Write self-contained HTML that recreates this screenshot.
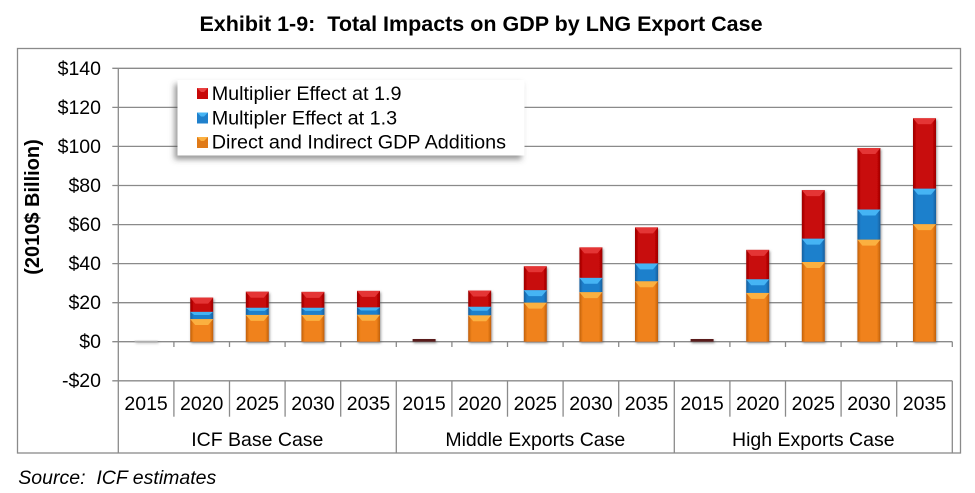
<!DOCTYPE html>
<html><head><meta charset="utf-8"><style>
html,body{margin:0;padding:0;background:#fff;}
svg{display:block;}
text{font-family:"Liberation Sans",Arial,sans-serif;fill:#000;white-space:pre;}
</style></head><body>
<svg width="975" height="493" viewBox="0 0 975 493" xmlns="http://www.w3.org/2000/svg" xml:space="preserve">
<defs>
<linearGradient id="gr" x1="0" x2="1" y1="0" y2="0"><stop offset="0" stop-color="#9a0000"/><stop offset="0.15" stop-color="#c80808"/><stop offset="0.85" stop-color="#c80808"/><stop offset="1" stop-color="#9a0000"/></linearGradient>
<linearGradient id="gb" x1="0" x2="1" y1="0" y2="0"><stop offset="0" stop-color="#155f9e"/><stop offset="0.15" stop-color="#1f80cc"/><stop offset="0.85" stop-color="#1f80cc"/><stop offset="1" stop-color="#155f9e"/></linearGradient>
<linearGradient id="go" x1="0" x2="1" y1="0" y2="0"><stop offset="0" stop-color="#c0600a"/><stop offset="0.15" stop-color="#f0821a"/><stop offset="0.85" stop-color="#f0821a"/><stop offset="1" stop-color="#c0600a"/></linearGradient>
<filter id="sh" x="-20%" y="-20%" width="150%" height="150%"><feDropShadow dx="1" dy="1.5" stdDeviation="1.2" flood-color="#555" flood-opacity="0.6"/></filter>
<filter id="lsh" x="-10%" y="-20%" width="120%" height="150%"><feDropShadow dx="-3" dy="4" stdDeviation="3" flood-color="#444" flood-opacity="0.55"/></filter>
</defs>

<text x="481" y="31" font-size="21.5" font-weight="bold" text-anchor="middle">Exhibit 1-9:  Total Impacts on GDP by LNG Export Case</text>

<rect x="17.5" y="48.5" width="943" height="404.5" fill="none" stroke="#8a8a8a" stroke-width="1.3"/>

<g stroke="#8a8a8a" stroke-width="1.3">
<line x1="112.3" x2="952.3" y1="68.3" y2="68.3"/>
<line x1="112.3" x2="952.3" y1="107.4" y2="107.4"/>
<line x1="112.3" x2="952.3" y1="146.4" y2="146.4"/>
<line x1="112.3" x2="952.3" y1="185.5" y2="185.5"/>
<line x1="112.3" x2="952.3" y1="224.6" y2="224.6"/>
<line x1="112.3" x2="952.3" y1="263.6" y2="263.6"/>
<line x1="112.3" x2="952.3" y1="302.7" y2="302.7"/>
<line x1="112.3" x2="952.3" y1="341.7" y2="341.7"/>
<line x1="112.3" x2="952.3" y1="380.8" y2="380.8"/>
<line x1="118.3" x2="118.3" y1="68.3" y2="453"/>
<line x1="173.9" x2="173.9" y1="341.7" y2="347"/>
<line x1="229.5" x2="229.5" y1="341.7" y2="347"/>
<line x1="285.1" x2="285.1" y1="341.7" y2="347"/>
<line x1="340.7" x2="340.7" y1="341.7" y2="347"/>
<line x1="396.3" x2="396.3" y1="341.7" y2="347"/>
<line x1="451.9" x2="451.9" y1="341.7" y2="347"/>
<line x1="507.5" x2="507.5" y1="341.7" y2="347"/>
<line x1="563.1" x2="563.1" y1="341.7" y2="347"/>
<line x1="618.7" x2="618.7" y1="341.7" y2="347"/>
<line x1="674.3" x2="674.3" y1="341.7" y2="347"/>
<line x1="729.9" x2="729.9" y1="341.7" y2="347"/>
<line x1="785.5" x2="785.5" y1="341.7" y2="347"/>
<line x1="841.1" x2="841.1" y1="341.7" y2="347"/>
<line x1="896.7" x2="896.7" y1="341.7" y2="347"/>
<line x1="952.3" x2="952.3" y1="341.7" y2="347"/>
<line x1="173.9" x2="173.9" y1="380.8" y2="416.7"/>
<line x1="229.5" x2="229.5" y1="380.8" y2="416.7"/>
<line x1="285.1" x2="285.1" y1="380.8" y2="416.7"/>
<line x1="340.7" x2="340.7" y1="380.8" y2="416.7"/>
<line x1="451.9" x2="451.9" y1="380.8" y2="416.7"/>
<line x1="507.5" x2="507.5" y1="380.8" y2="416.7"/>
<line x1="563.1" x2="563.1" y1="380.8" y2="416.7"/>
<line x1="618.7" x2="618.7" y1="380.8" y2="416.7"/>
<line x1="729.9" x2="729.9" y1="380.8" y2="416.7"/>
<line x1="785.5" x2="785.5" y1="380.8" y2="416.7"/>
<line x1="841.1" x2="841.1" y1="380.8" y2="416.7"/>
<line x1="896.7" x2="896.7" y1="380.8" y2="416.7"/>
<line x1="396.3" x2="396.3" y1="380.8" y2="453"/>
<line x1="674.3" x2="674.3" y1="380.8" y2="453"/>
<line x1="952.3" x2="952.3" y1="380.8" y2="453"/>
</g>

<g font-size="19.5" text-anchor="end">
<text x="101" y="75">$140</text>
<text x="101" y="114">$120</text>
<text x="101" y="153">$100</text>
<text x="101" y="192">$80</text>
<text x="101" y="231">$60</text>
<text x="101" y="270">$40</text>
<text x="101" y="309">$20</text>
<text x="101" y="348">$0</text>
<text x="101" y="387">-$20</text>
</g>
<text transform="translate(39,207) rotate(-90)" font-size="20" font-weight="bold" text-anchor="middle">(2010$ Billion)</text>

<g font-size="19.5" text-anchor="middle">
<text x="146.1" y="410">2015</text><text x="201.7" y="410">2020</text><text x="257.3" y="410">2025</text><text x="312.9" y="410">2030</text><text x="368.5" y="410">2035</text>
<text x="424.1" y="410">2015</text><text x="479.7" y="410">2020</text><text x="535.3" y="410">2025</text><text x="590.9" y="410">2030</text><text x="646.5" y="410">2035</text>
<text x="702.1" y="410">2015</text><text x="757.7" y="410">2020</text><text x="813.3" y="410">2025</text><text x="868.9" y="410">2030</text><text x="924.5" y="410">2035</text>
<text x="257.3" y="446">ICF Base Case</text>
<text x="535.3" y="446">Middle Exports Case</text>
<text x="813.3" y="446">High Exports Case</text>
</g>

<g filter="url(#sh)">
<rect x="134.6" y="340.7" width="23" height="1" fill="#bbb"/>
<rect x="190.2" y="319.05" width="23" height="22.65" fill="url(#go)"/><polygon points="190.2,319.05 213.2,319.05 208.2,325 195.2,325" fill="#fbb040"/>
<rect x="190.2" y="311.8" width="23" height="7.25" fill="url(#gb)"/><polygon points="190.2,311.8 213.2,311.8 209.2,315 194.2,315" fill="#45b4f4"/>
<rect x="190.2" y="297.6" width="23" height="14.2" fill="url(#gr)"/><polygon points="190.2,297.6 213.2,297.6 208.2,303.6 195.2,303.6" fill="#e43434"/>
<rect x="245.8" y="314.9" width="23" height="26.8" fill="url(#go)"/><polygon points="245.8,314.9 268.8,314.9 263.8,320.9 250.8,320.9" fill="#fbb040"/>
<rect x="245.8" y="307.7" width="23" height="7.2" fill="url(#gb)"/><polygon points="245.8,307.7 268.8,307.7 264.8,310.9 249.8,310.9" fill="#45b4f4"/>
<rect x="245.8" y="291.7" width="23" height="16" fill="url(#gr)"/><polygon points="245.8,291.7 268.8,291.7 263.8,297.7 250.8,297.7" fill="#e43434"/>
<rect x="301.4" y="314.9" width="23" height="26.8" fill="url(#go)"/><polygon points="301.4,314.9 324.4,314.9 319.4,320.9 306.4,320.9" fill="#fbb040"/>
<rect x="301.4" y="307.7" width="23" height="7.2" fill="url(#gb)"/><polygon points="301.4,307.7 324.4,307.7 320.4,310.9 305.4,310.9" fill="#45b4f4"/>
<rect x="301.4" y="291.9" width="23" height="15.8" fill="url(#gr)"/><polygon points="301.4,291.9 324.4,291.9 319.4,297.9 306.4,297.9" fill="#e43434"/>
<rect x="357" y="314.7" width="23" height="27" fill="url(#go)"/><polygon points="357,314.7 380,314.7 375,320.7 362,320.7" fill="#fbb040"/>
<rect x="357" y="307.3" width="23" height="7.4" fill="url(#gb)"/><polygon points="357,307.3 380,307.3 376,310.5 361,310.5" fill="#45b4f4"/>
<rect x="357" y="290.9" width="23" height="16.4" fill="url(#gr)"/><polygon points="357,290.9 380,290.9 375,296.9 362,296.9" fill="#e43434"/>
<rect x="412.6" y="339" width="23" height="2.7" fill="#5a1a1a"/>
<rect x="468.2" y="315.3" width="23" height="26.4" fill="url(#go)"/><polygon points="468.2,315.3 491.2,315.3 486.2,321.3 473.2,321.3" fill="#fbb040"/>
<rect x="468.2" y="306.7" width="23" height="8.6" fill="url(#gb)"/><polygon points="468.2,306.7 491.2,306.7 487.2,310.7 472.2,310.7" fill="#45b4f4"/>
<rect x="468.2" y="290.5" width="23" height="16.2" fill="url(#gr)"/><polygon points="468.2,290.5 491.2,290.5 486.2,296.5 473.2,296.5" fill="#e43434"/>
<rect x="523.8" y="302.6" width="23" height="39.1" fill="url(#go)"/><polygon points="523.8,302.6 546.8,302.6 541.8,308.6 528.8,308.6" fill="#fbb040"/>
<rect x="523.8" y="290.1" width="23" height="12.5" fill="url(#gb)"/><polygon points="523.8,290.1 546.8,290.1 541.8,296.1 528.8,296.1" fill="#45b4f4"/>
<rect x="523.8" y="266.3" width="23" height="23.8" fill="url(#gr)"/><polygon points="523.8,266.3 546.8,266.3 541.8,272.3 528.8,272.3" fill="#e43434"/>
<rect x="579.4" y="292.1" width="23" height="49.6" fill="url(#go)"/><polygon points="579.4,292.1 602.4,292.1 597.4,298.1 584.4,298.1" fill="#fbb040"/>
<rect x="579.4" y="277.8" width="23" height="14.3" fill="url(#gb)"/><polygon points="579.4,277.8 602.4,277.8 597.4,283.8 584.4,283.8" fill="#45b4f4"/>
<rect x="579.4" y="247.4" width="23" height="30.4" fill="url(#gr)"/><polygon points="579.4,247.4 602.4,247.4 597.4,253.4 584.4,253.4" fill="#e43434"/>
<rect x="635" y="281.2" width="23" height="60.5" fill="url(#go)"/><polygon points="635,281.2 658,281.2 653,287.2 640,287.2" fill="#fbb040"/>
<rect x="635" y="263.4" width="23" height="17.8" fill="url(#gb)"/><polygon points="635,263.4 658,263.4 653,269.4 640,269.4" fill="#45b4f4"/>
<rect x="635" y="227.4" width="23" height="36" fill="url(#gr)"/><polygon points="635,227.4 658,227.4 653,233.4 640,233.4" fill="#e43434"/>
<rect x="690.6" y="339" width="23" height="2.7" fill="#5a1a1a"/>
<rect x="746.2" y="292.9" width="23" height="48.8" fill="url(#go)"/><polygon points="746.2,292.9 769.2,292.9 764.2,298.9 751.2,298.9" fill="#fbb040"/>
<rect x="746.2" y="279.2" width="23" height="13.7" fill="url(#gb)"/><polygon points="746.2,279.2 769.2,279.2 764.2,285.2 751.2,285.2" fill="#45b4f4"/>
<rect x="746.2" y="249.9" width="23" height="29.3" fill="url(#gr)"/><polygon points="746.2,249.9 769.2,249.9 764.2,255.9 751.2,255.9" fill="#e43434"/>
<rect x="801.8" y="262" width="23" height="79.7" fill="url(#go)"/><polygon points="801.8,262 824.8,262 819.8,268 806.8,268" fill="#fbb040"/>
<rect x="801.8" y="238.6" width="23" height="23.4" fill="url(#gb)"/><polygon points="801.8,238.6 824.8,238.6 819.8,244.6 806.8,244.6" fill="#45b4f4"/>
<rect x="801.8" y="190.1" width="23" height="48.5" fill="url(#gr)"/><polygon points="801.8,190.1 824.8,190.1 819.8,196.1 806.8,196.1" fill="#e43434"/>
<rect x="857.4" y="239.6" width="23" height="102.1" fill="url(#go)"/><polygon points="857.4,239.6 880.4,239.6 875.4,245.6 862.4,245.6" fill="#fbb040"/>
<rect x="857.4" y="209.5" width="23" height="30.1" fill="url(#gb)"/><polygon points="857.4,209.5 880.4,209.5 875.4,215.5 862.4,215.5" fill="#45b4f4"/>
<rect x="857.4" y="148" width="23" height="61.5" fill="url(#gr)"/><polygon points="857.4,148 880.4,148 875.4,154 862.4,154" fill="#e43434"/>
<rect x="913" y="224.1" width="23" height="117.6" fill="url(#go)"/><polygon points="913,224.1 936,224.1 931,230.1 918,230.1" fill="#fbb040"/>
<rect x="913" y="188.6" width="23" height="35.5" fill="url(#gb)"/><polygon points="913,188.6 936,188.6 931,194.6 918,194.6" fill="#45b4f4"/>
<rect x="913" y="118.3" width="23" height="70.3" fill="url(#gr)"/><polygon points="913,118.3 936,118.3 931,124.3 918,124.3" fill="#e43434"/>
</g>

<rect x="177.5" y="80" width="347" height="75.5" fill="#fff" filter="url(#lsh)"/>
<rect x="197" y="88" width="11" height="11" fill="#c80808"/><polygon points="197,88 208,88 204,92 201,92" fill="#e84040"/>
<rect x="197" y="112.5" width="11" height="11" fill="#1f80cc"/><polygon points="197,112.5 208,112.5 204,116.5 201,116.5" fill="#45b4f4"/>
<rect x="197" y="137" width="11" height="11" fill="#e07a18"/><polygon points="197,137 208,137 204,141 201,141" fill="#fbb040"/>
<g font-size="19.8">
<text x="211.7" y="100">Multiplier Effect at 1.9</text>
<text x="211.7" y="124.3">Multipler Effect at 1.3</text>
<text x="211.7" y="148.5">Direct and Indirect GDP Additions</text>
</g>

<text x="18.3" y="484" font-size="19.5" font-style="italic">Source:  ICF estimates</text>
</svg>
</body></html>
